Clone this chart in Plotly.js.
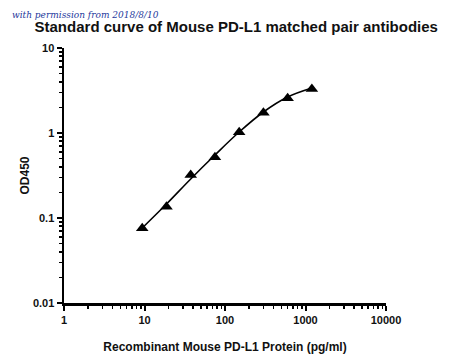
<!DOCTYPE html>
<html>
<head>
<meta charset="utf-8">
<script src="https://cdn.plot.ly/plotly-3.0.1.min.js"></script>
<style>html,body{margin:0;padding:0;background:#fff;}#chart{width:450px;height:360px;}</style>
</head>
<body>
<div id="chart"></div>
<script>
// Data: standard points
const concentration = [9.375, 18.75, 37.5, 75, 150, 300, 600, 1200];
const od450 = [0.076, 0.136, 0.32, 0.52, 1.02, 1.73, 2.56, 3.29];
// Fitted curve
const curveConc = [9.375, 18.75, 37.5, 75, 150, 300, 600, 1200];
const curveOD = [0.0763, 0.146, 0.288, 0.551, 1.027, 1.766, 2.65, 3.38];
// Ticks
const xTickVals = [1, 10, 100, 1000, 10000];
const xTickText = ["<b>1</b>", "<b>10</b>", "<b>100</b>", "<b>1000</b>", "<b>10000</b>"];
const xMinorVals = [2,3,4,5,6,7,8,9, 20,30,40,50,60,70,80,90, 200,300,400,500,600,700,800,900, 2000,3000,4000,5000,6000,7000,8000,9000];
const yTickVals = [0.01, 0.1, 1, 10];
const yTickText = ["<b>0.01</b>", "<b>0.1</b>", "<b>1</b>", "<b>10</b>"];

Plotly.newPlot("chart", [
  {x: curveConc, y: curveOD, type: "scatter", mode: "lines",
   line: {color: "#000", width: 1.6, shape: "spline", smoothing: 1}, showlegend: false},
  {x: concentration, y: od450, type: "scatter", mode: "markers",
   marker: {symbol: "triangle-up", size: 11, color: "#000"}, showlegend: false}
], {
  width: 450, height: 360, margin: {l: 64, r: 64, t: 48, b: 57},
  font: {family: "Liberation Sans, Arial, sans-serif", color: "#111", size: 11},
  title: {text: "<b>Standard curve of Mouse PD-L1 matched pair antibodies</b>", font: {size: 15}, x: 0.525, y: 0.94},
  xaxis: {type: "log", range: [0, 4], showline: true, linecolor: "#000", linewidth: 2.5,
    ticks: "outside", ticklen: 5, tickwidth: 2, tickcolor: "#000", showgrid: false,
    tickmode: "array", tickvals: xTickVals, ticktext: xTickText,
    minor: {ticks: "outside", ticklen: 3, tickwidth: 1.5, tickcolor: "#000", tickmode: "array", tickvals: xMinorVals},
    title: {text: "<b>Recombinant Mouse PD-L1 Protein (pg/ml)</b>", font: {size: 12}}},
  yaxis: {type: "log", range: [-2, 1], showline: true, linecolor: "#000", linewidth: 2.5,
    ticks: "outside", ticklen: 5, tickwidth: 2, tickcolor: "#000", showgrid: false,
    tickmode: "array", tickvals: yTickVals, ticktext: yTickText,
    minor: {ticks: "outside", ticklen: 3, tickwidth: 1.5, tickcolor: "#000", dtick: "D1"},
    title: {text: "<b>OD450</b>", font: {size: 12}}},
  annotations: [{text: "<i>with permission from 2018/8/10</i>", xref: "paper", yref: "paper",
    x: -0.168, y: 1.13, xanchor: "left", yanchor: "middle", showarrow: false,
    font: {family: "DejaVu Serif, serif", size: 9, color: "#24389c"}}]
}, {displayModeBar: false, staticPlot: true});
</script>
</body>
</html>
